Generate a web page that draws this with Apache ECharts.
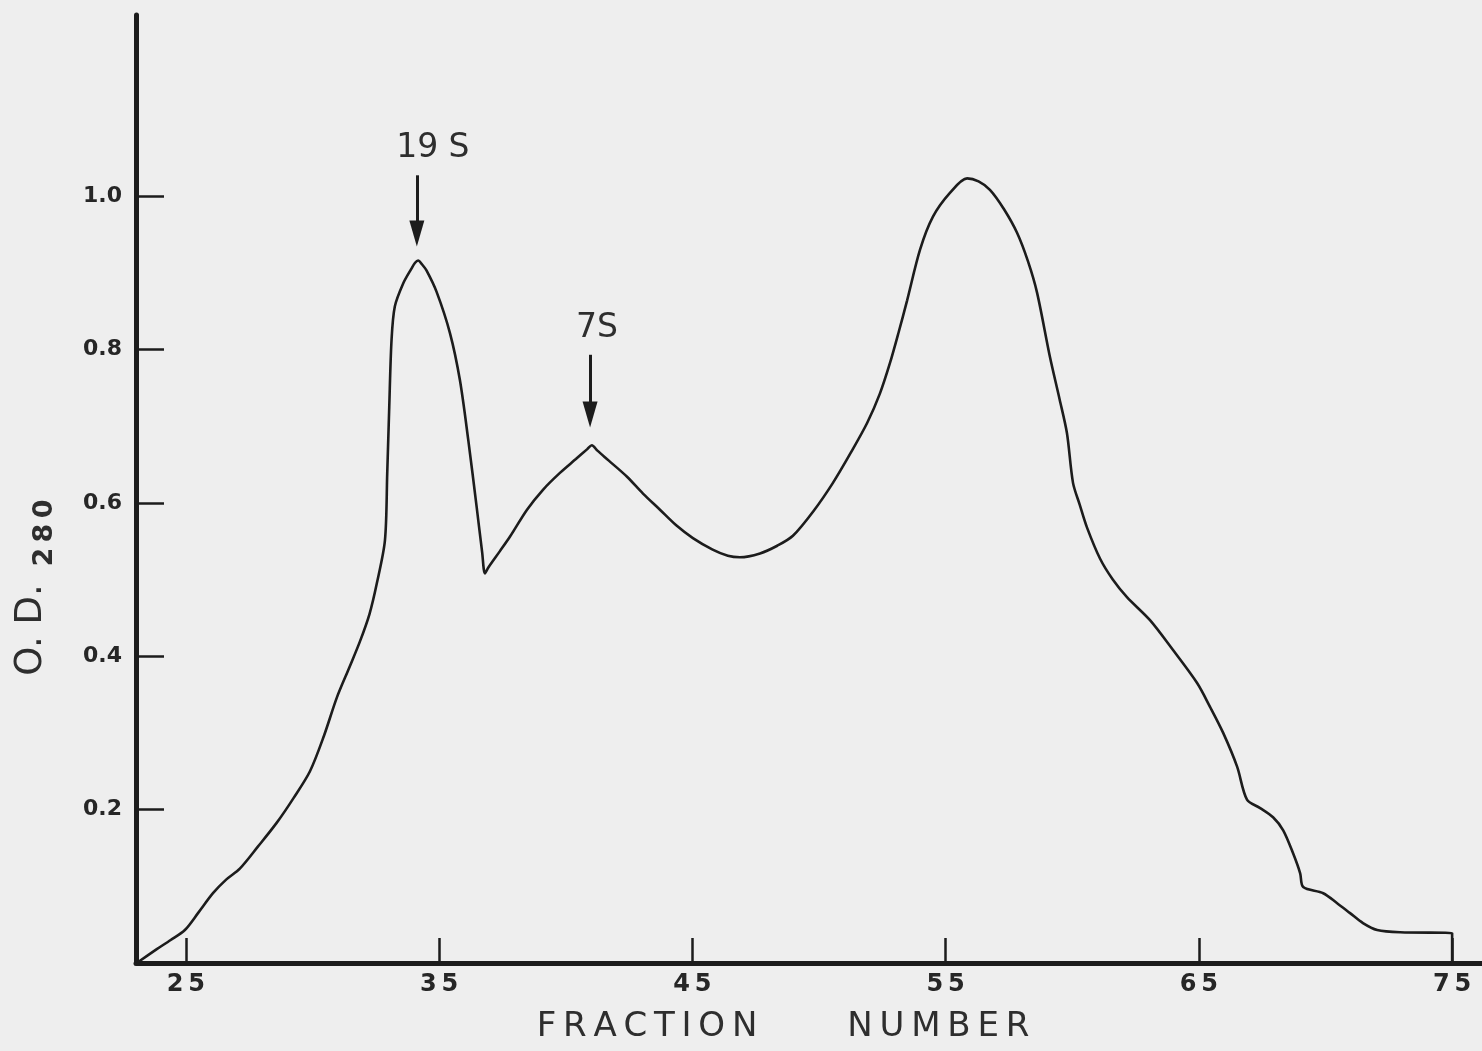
<!DOCTYPE html>
<html>
<head>
<meta charset="utf-8">
<title>O.D. 280 profile by fraction number</title>
<script src="https://cdn.jsdelivr.net/npm/echarts@6/dist/echarts.min.js"></script>
<style>
  html, body { margin: 0; padding: 0; background: #eeeeee; }
  #chart { width: 1482px; height: 1051px; }
</style>
</head>
<body>
<div id="chart"></div>
<script>
// Absorbance profile across gradient fractions: [fraction number, O.D. 280]
const profile = [
  [23.06, 0.000], [23.85, 0.018], [24.40, 0.030], [24.96, 0.043], [25.50, 0.066],
  [26.07, 0.091], [26.60, 0.109], [27.13, 0.123], [27.85, 0.152], [28.59, 0.183],
  [29.25, 0.215], [29.90, 0.250], [30.45, 0.296], [30.96, 0.346], [31.45, 0.385],
  [31.87, 0.419], [32.25, 0.455], [32.54, 0.495], [32.86, 0.551], [32.95, 0.638],
  [33.03, 0.725], [33.12, 0.812], [33.25, 0.856], [33.58, 0.886], [33.90, 0.905],
  [34.05, 0.913], [34.17, 0.916], [34.32, 0.911], [34.50, 0.903], [34.90, 0.875],
  [35.43, 0.821], [35.82, 0.760], [36.15, 0.682], [36.48, 0.595], [36.70, 0.535],
  [36.81, 0.508], [36.95, 0.516], [37.40, 0.537], [37.80, 0.556], [38.47, 0.591],
  [39.10, 0.617], [39.77, 0.639], [40.40, 0.657], [40.85, 0.670], [41.03, 0.675],
  [41.25, 0.668], [41.70, 0.655], [42.42, 0.634], [43.05, 0.612], [43.72, 0.591],
  [44.35, 0.571], [45.02, 0.554], [45.80, 0.539], [46.40, 0.531], [46.88, 0.529],
  [47.67, 0.534], [48.35, 0.544], [48.97, 0.557], [49.80, 0.590], [50.55, 0.626],
  [51.25, 0.665], [51.90, 0.704], [52.40, 0.742], [52.80, 0.782], [53.15, 0.823],
  [53.48, 0.864], [53.99, 0.930], [54.50, 0.973], [55.17, 1.004], [55.85, 1.023],
  [56.30, 1.019], [56.75, 1.008], [57.30, 0.983], [57.82, 0.952], [58.25, 0.915],
  [58.61, 0.874], [59.12, 0.790], [59.50, 0.735], [59.79, 0.691], [60.03, 0.626],
  [60.30, 0.597], [60.58, 0.568], [61.10, 0.527], [61.60, 0.500], [62.16, 0.477],
  [63.07, 0.447], [63.98, 0.408], [64.93, 0.365], [65.44, 0.334], [65.96, 0.300],
  [66.51, 0.256], [66.90, 0.213], [67.42, 0.202], [67.93, 0.190], [68.33, 0.173],
  [68.72, 0.143], [69.00, 0.117], [69.12, 0.099], [69.91, 0.091], [70.46, 0.078],
  [70.97, 0.065], [71.48, 0.052], [72.04, 0.043], [72.95, 0.040], [75.00, 0.039],
  [75.00, 0.000]
];

// Sedimentation peak markers
const peakNames     = ['19 S', '7S'];
const peakFractions = [34.12, 40.96];
const arrowTops     = [1.027, 0.793];
const arrowEnds     = [0.951, 0.715];
const labelShift    = [32, 14];

// Tick values
const xTicks = [25, 35, 45, 55, 65, 75];
const yTicks = [0.2, 0.4, 0.6, 0.8, 1.0];

const ink = '#1c1c1c';
const font = '"DejaVu Sans", "Liberation Sans", sans-serif';
const spaced = s => s.split('').join('\u2009');

const arrows = peakNames.map((name, i) => [
  {
    coord: [peakFractions[i], arrowTops[i]],
    symbol: 'none',
    name: name,
    label: { padding: [0, 0, 0, labelShift[i]] }
  },
  {
    coord: [peakFractions[i], arrowEnds[i]],
    symbol: 'triangle',
    symbolSize: [15, 26]
  }
]);

const chart = echarts.init(document.getElementById('chart'), null, { renderer: 'canvas' });

chart.setOption({
  backgroundColor: '#eeeeee',
  animation: false,
  grid: { left: 136, right: 0, top: 15, bottom: 88, containLabel: false },
  xAxis: {
    type: 'value',
    min: 23.03,
    max: 76.18,
    name: '{w|' + spaced('FRACTION') + '}{g|}{w|' + spaced('NUMBER') + '}',
    nameLocation: 'middle',
    nameGap: 47,
    nameTextStyle: {
      padding: [0, 52, 0, 0],
      rich: {
        w: { fontFamily: font, fontSize: 34, color: '#2e2e2e' },
        g: { width: 90 }
      }
    },
    axisLine: { show: true, onZero: false, lineStyle: { color: ink, width: 5 } },
    axisTick: {
      show: true, inside: true, length: 25, customValues: xTicks,
      lineStyle: { color: ink, width: 2.5 }
    },
    axisLabel: {
      customValues: xTicks,
      formatter: v => spaced(String(v)),
      margin: 10,
      fontFamily: font, fontSize: 24, fontWeight: 'bold', color: '#262626'
    },
    splitLine: { show: false }
  },
  yAxis: {
    type: 'value',
    min: 0,
    max: 1.236,
    axisLine: { show: true, onZero: false, lineStyle: { color: ink, width: 5 } },
    axisTick: {
      show: true, inside: true, length: 28, customValues: yTicks,
      lineStyle: { color: ink, width: 2.5 }
    },
    axisLabel: {
      customValues: yTicks,
      formatter: v => v.toFixed(1),
      margin: 14,
      fontFamily: font, fontSize: 22, fontWeight: 'bold', color: '#262626'
    },
    splitLine: { show: false }
  },
  graphic: [
    {
      type: 'text', x: 31, y: 630, rotation: Math.PI / 2,
      style: {
        text: 'O. D.', font: '37px ' + font, fill: '#2e2e2e',
        textAlign: 'center', textVerticalAlign: 'middle'
      }
    },
    {
      type: 'text', x: 45, y: 533, rotation: Math.PI / 2,
      style: {
        text: spaced('280'), font: 'bold 27px ' + font, fill: '#2e2e2e',
        textAlign: 'center', textVerticalAlign: 'middle'
      }
    }
  ],
  series: [
    {
      type: 'line',
      data: profile,
      smooth: 0.3,
      showSymbol: false,
      lineStyle: { color: ink, width: 2.6 },
      markLine: {
        silent: true,
        symbol: ['none', 'triangle'],
        lineStyle: { color: ink, width: 3, type: 'solid' },
        itemStyle: { color: ink },
        label: {
          show: true,
          position: 'start',
          distance: 10,
          formatter: p => p.name,
          fontFamily: font, fontSize: 33, color: '#2e2e2e'
        },
        emphasis: { disabled: true },
        data: arrows
      }
    }
  ]
});
</script>
</body>
</html>
